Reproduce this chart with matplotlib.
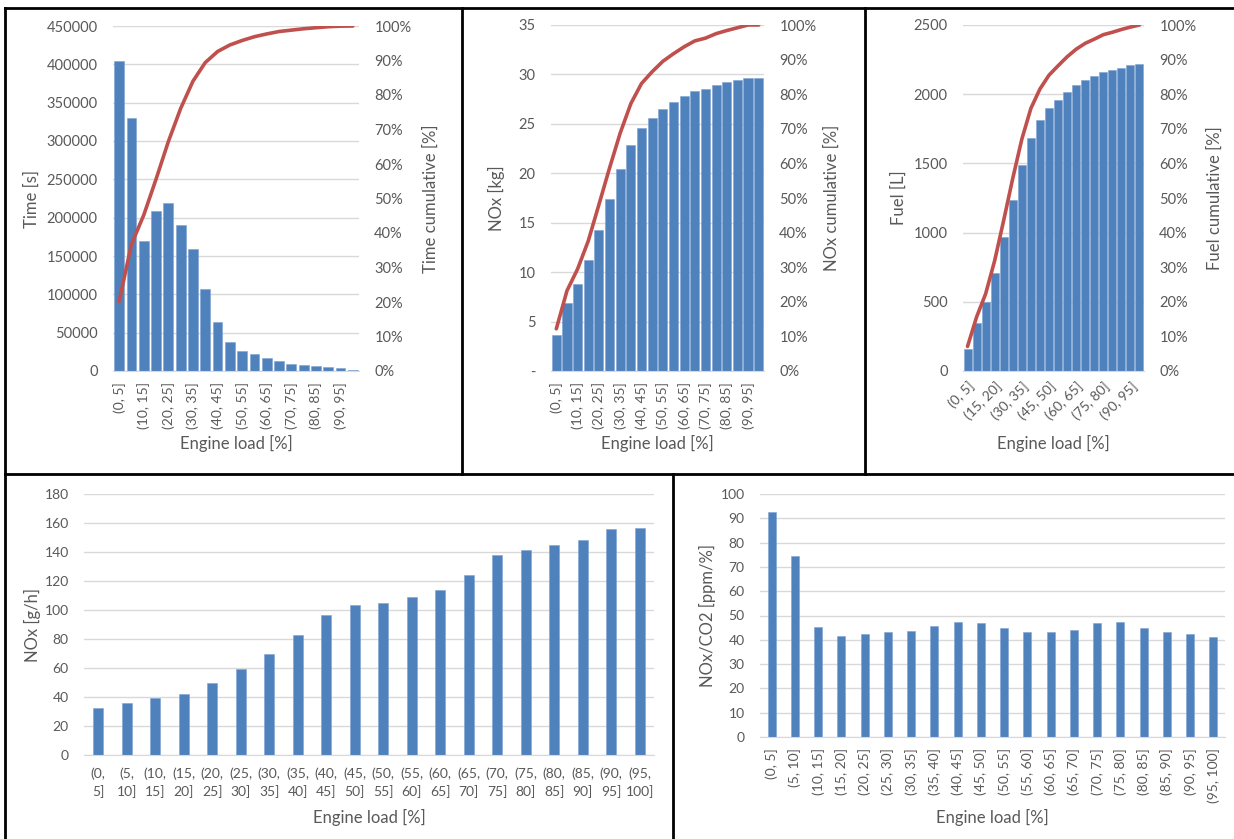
import numpy as np
import matplotlib
matplotlib.use("Agg")
import matplotlib.pyplot as plt
from matplotlib.lines import Line2D
from matplotlib.ticker import PercentFormatter

plt.rcParams["font.family"] = ["Lato", "DejaVu Sans"]

BLUE = "#4F81BD"
RED = "#C0504D"
GRID = "#D9D9D9"
TXT = "#595959"
W, H = 1234, 839

# エンジン負荷ビン (20区分)
load_bins = ["(0, 5]", "(5, 10]", "(10, 15]", "(15, 20]", "(20, 25]",
             "(25, 30]", "(30, 35]", "(35, 40]", "(40, 45]", "(45, 50]",
             "(50, 55]", "(55, 60]", "(60, 65]", "(65, 70]", "(70, 75]",
             "(75, 80]", "(80, 85]", "(85, 90]", "(90, 95]", "(95, 100]"]
load_bins_2line = ["(0,\n5]", "(5,\n10]", "(10,\n15]", "(15,\n20]", "(20,\n25]",
                   "(25,\n30]", "(30,\n35]", "(35,\n40]", "(40,\n45]", "(45,\n50]",
                   "(50,\n55]", "(55,\n60]", "(60,\n65]", "(65,\n70]", "(70,\n75]",
                   "(75,\n80]", "(80,\n85]", "(85,\n90]", "(90,\n95]", "(95,\n100]"]

time_s = [405000, 330000, 169000, 209000, 219000, 191000, 159000, 107500, 63500, 38000,
          26500, 22000, 17000, 12500, 9000, 7500, 6000, 5500, 4000, 1000]
time_cum = [0.202, 0.367, 0.452, 0.556, 0.665, 0.761, 0.840, 0.894, 0.926, 0.945,
            0.958, 0.969, 0.977, 0.984, 0.988, 0.992, 0.995, 0.998, 0.9995, 1.0]

nox_kg = [3.6, 6.9, 8.8, 11.2, 14.3, 17.4, 20.4, 22.9, 24.6, 25.6,
          26.5, 27.2, 27.8, 28.3, 28.5, 28.9, 29.2, 29.4, 29.6, 29.6]
nox_cum = [0.122, 0.232, 0.295, 0.376, 0.481, 0.587, 0.688, 0.773, 0.831, 0.865,
           0.895, 0.917, 0.937, 0.954, 0.962, 0.975, 0.984, 0.992, 1.0, 1.0]

fuel_l = [157, 347, 496, 708, 968, 1238, 1488, 1686, 1811, 1898,
          1960, 2016, 2066, 2103, 2129, 2158, 2175, 2192, 2208, 2221]
fuel_cum = [0.071, 0.156, 0.223, 0.319, 0.436, 0.557, 0.670, 0.759, 0.815, 0.855,
            0.882, 0.908, 0.930, 0.947, 0.959, 0.972, 0.979, 0.987, 0.994, 1.0]

nox_gh = [32.7, 36.1, 39.6, 42.1, 49.7, 59.4, 69.5, 83.1, 96.7, 103.6,
          104.5, 108.9, 113.7, 124.1, 137.7, 141.1, 144.6, 148.0, 155.8, 156.5]

nox_co2 = [92.5, 74.6, 45.3, 41.7, 42.2, 43.2, 43.6, 45.8, 47.2, 46.8,
           44.7, 43.2, 43.2, 44.2, 46.8, 47.2, 44.7, 43.2, 42.2, 41.3]

fig = plt.figure(figsize=(W / 100, H / 100), dpi=100)


def px_axes(x0, y0, x1, y1):
    return fig.add_axes([x0 / W, 1 - y1 / H, (x1 - x0) / W, (y1 - y0) / H])


def style(ax, tsize=10.5):
    for s in ["top", "right", "left"]:
        ax.spines[s].set_visible(False)
    ax.spines["bottom"].set_color(GRID)
    ax.yaxis.grid(True, color=GRID, lw=1)
    ax.set_axisbelow(True)
    ax.tick_params(length=0, colors=TXT, labelsize=tsize)
    ax.tick_params(axis="y", pad=11)
    ax.set_xlim(-0.5, 19.5)


def labels(ax, ylab, ylx, xly, size=12):
    ax.set_ylabel(ylab, color=TXT, fontsize=size, va="center")
    ax.yaxis.set_label_coords(ylx, 0.5)
    ax.set_xlabel("Engine load [%]", color=TXT, fontsize=size, va="center")
    ax.xaxis.set_label_coords(0.5, xly)


def cum_axis(ax, vals, lab, lx):
    ax2 = ax.twinx()
    ax2.plot(x, vals, color=RED, lw=2.6, solid_capstyle="round")
    ax2.set_ylim(0, 1)
    ax2.set_yticks(np.arange(0, 1.01, 0.1))
    ax2.yaxis.set_major_formatter(PercentFormatter(1, decimals=0))
    for s in ax2.spines.values():
        s.set_visible(False)
    ax2.tick_params(length=0, colors=TXT, labelsize=10.5, pad=11)
    ax2.set_ylabel(lab, color=TXT, fontsize=12, va="center", rotation=90)
    ax2.yaxis.set_label_coords(lx, 0.5)
    ax2.set_xlim(-0.5, 19.5)


x = np.arange(len(load_bins))

# (1) Time
ax = px_axes(113, 26, 359, 371)
ax.bar(x, time_s, width=0.8, color=BLUE, edgecolor="#7FA3D4", lw=0.4)
ax.set_ylim(0, 450000)
ax.set_yticks(np.arange(0, 450001, 50000))
ax.set_yticklabels([str(v) for v in range(0, 450001, 50000)])
ax.set_xticks(x[::2])
ax.set_xticklabels(load_bins[::2], rotation=90)
style(ax)
ax.tick_params(axis="x", pad=8, labelsize=10)
labels(ax, "Time [s]", -0.33, -0.209)
cum_axis(ax, time_cum, "Time cumulative [%]", 1.29)

# (2) NOx kg
ax = px_axes(551, 25, 764, 371)
ax.bar(x, nox_kg, width=0.85, color=BLUE, edgecolor="#7FA3D4", lw=0.4)
ax.set_ylim(0, 35)
ax.set_yticks(np.arange(0, 36, 5))
ax.set_yticklabels(["-", "5", "10", "15", "20", "25", "30", "35"])
ax.set_xticks(x[::2])
ax.set_xticklabels(load_bins[::2], rotation=90)
style(ax)
ax.tick_params(axis="x", pad=8, labelsize=10)
labels(ax, "NOx [kg]", -0.254, -0.209)
cum_axis(ax, nox_cum, "NOx cumulative [%]", 1.32)

# (3) Fuel
ax = px_axes(963, 25, 1144, 371)
ax.bar(x, fuel_l, width=0.88, color=BLUE, edgecolor="#7FA3D4", lw=0.4)
ax.set_ylim(0, 2500)
ax.set_yticks(np.arange(0, 2501, 500))
ax.set_xticks(x[::3])
ax.set_xticklabels(load_bins[::3], rotation=45, ha="right", rotation_mode="anchor")
style(ax)
ax.tick_params(axis="x", pad=6, labelsize=10)
labels(ax, "Fuel [L]", -0.354, -0.209)
cum_axis(ax, fuel_cum, "Fuel cumulative [%]", 1.39)

# (4) NOx g/h
ax = px_axes(84, 494, 654, 755)
ax.bar(x, nox_gh, width=0.36, color=BLUE, edgecolor="#7FA3D4", lw=0.4)
ax.set_ylim(0, 180)
ax.set_yticks(np.arange(0, 181, 20))
ax.set_xticks(x)
ax.set_xticklabels(load_bins_2line, linespacing=1.5)
style(ax, tsize=10)
ax.tick_params(axis="x", pad=9)
labels(ax, "NOx [g/h]", -0.09, -0.241)

# (5) NOx/CO2
ax = px_axes(760, 494, 1225, 737)
ax.bar(x, nox_co2, width=0.35, color=BLUE, edgecolor="#7FA3D4", lw=0.4)
ax.set_ylim(0, 100)
ax.set_yticks(np.arange(0, 101, 10))
ax.set_xticks(x)
ax.set_xticklabels(load_bins, rotation=90)
style(ax, tsize=10)
ax.tick_params(axis="x", pad=8)
labels(ax, "NOx/CO2 [ppm/%]", -0.112, -0.333)

# パネル枠線
for (x0, y0, x1, y1) in [(5, 8, W, 8), (5, 8, 5, H), (5, 474, W, 474),
                         (462, 8, 462, 474), (865, 8, 865, 474), (673, 474, 673, H)]:
    fig.add_artist(Line2D([x0 / W, x1 / W], [1 - y0 / H, 1 - y1 / H],
                          color="black", lw=2, transform=fig.transFigure))

fig.savefig("out.png", dpi=100)
